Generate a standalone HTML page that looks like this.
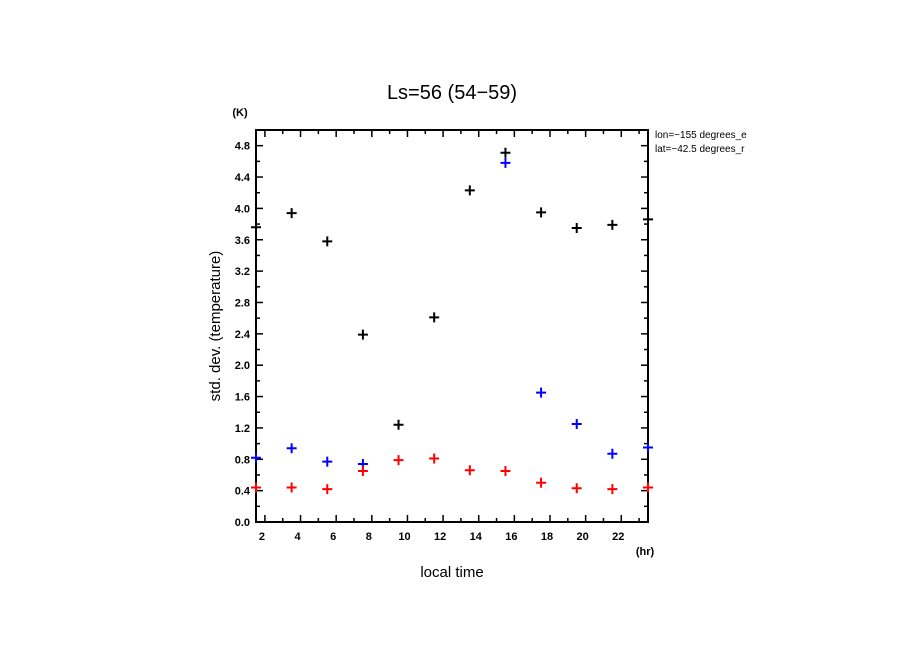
<!DOCTYPE html>
<html><head><meta charset="utf-8"><style>
body{margin:0;background:#fff;}
svg text{font-family:"Liberation Sans",sans-serif;}
</style></head><body>
<svg id="chart" width="904" height="654" xmlns="http://www.w3.org/2000/svg">
<rect width="904" height="654" fill="#fff"/>
<text x="452" y="99" font-size="20" text-anchor="middle">Ls=56 (54−59)</text>
<text x="240" y="116" font-size="11" font-weight="bold" text-anchor="middle">(K)</text>
<text x="645" y="555" font-size="11" font-weight="bold" text-anchor="middle">(hr)</text>
<text x="452" y="577" font-size="15" text-anchor="middle">local time</text>
<text transform="translate(220,326) rotate(-90)" font-size="15" text-anchor="middle">std. dev. (temperature)</text>
<text x="655" y="138" font-size="10">lon=−155 degrees_e</text>
<text x="655" y="152" font-size="10">lat=−42.5 degrees_r</text>
<g id="axes"></g>
<g id="marks"></g>
</svg>
<script>
const hours=[1.5,3.5,5.5,7.5,9.5,11.5,13.5,15.5,17.5,19.5,21.5,23.5];
const blackVals=[3.76,3.94,3.58,2.39,1.24,2.61,4.23,4.71,3.95,3.75,3.79,3.86];
const blueVals=[0.82,0.94,0.77,0.74,null,null,null,4.58,1.65,1.25,0.87,0.95];
const redVals=[0.44,0.44,0.42,0.65,0.79,0.81,0.66,0.65,0.50,0.43,0.42,0.44];
const yTicks=["0.0","0.4","0.8","1.2","1.6","2.0","2.4","2.8","3.2","3.6","4.0","4.4","4.8"];
const xTicks=["2","4","6","8","10","12","14","16","18","20","22"];

const NS="http://www.w3.org/2000/svg";
const L=256,R=648,T=130,B=522,X0=1.5,X1=23.5,Y0=0,Y1=5;
const sx=v=>L+(v-X0)/(X1-X0)*(R-L);
const sy=v=>B-(v-Y0)/(Y1-Y0)*(B-T);
function mk(tag,attrs,parent){const e=document.createElementNS(NS,tag);for(const k in attrs)e.setAttribute(k,attrs[k]);parent.appendChild(e);return e;}
const ax=document.getElementById('axes'),mg=document.getElementById('marks');
const frame=mk('rect',{x:L,y:T,width:R-L,height:B-T,fill:'none',stroke:'#000','stroke-width':2},ax);


// y ticks
for(let v=0;v<=5.001;v+=0.2){
  const y=sy(v),maj=Math.round(v*10)%4===0,len=maj?7:4;
  const t1=mk('line',{x1:L,x2:L+len,y1:y,y2:y,stroke:'#000','stroke-width':1.5},ax);
  
  
  const t2=mk('line',{x1:R,x2:R-len,y1:y,y2:y,stroke:'#000','stroke-width':1.5},ax);
  
  
}
yTicks.forEach(s=>{
  const t=mk('text',{x:L-6,y:sy(parseFloat(s))+4,'font-size':11,'font-weight':'bold','text-anchor':'end'},ax);
  t.textContent=s;
  
  
});
// x ticks
for(let h=2;h<=23;h++){
  const x=sx(h),maj=h%2===0,len=maj?7:4;
  const t1=mk('line',{x1:x,x2:x,y1:B,y2:B-len,stroke:'#000','stroke-width':1.5},ax);
  
  
  const t2=mk('line',{x1:x,x2:x,y1:T,y2:T+len,stroke:'#000','stroke-width':1.5},ax);
  
  
}
xTicks.forEach(s=>{
  const t=mk('text',{x:sx(parseFloat(s))-3,y:B+18,'font-size':11,'font-weight':'bold','text-anchor':'middle'},ax);
  t.textContent=s;
  
  
});
function plus(vals,color,name){
  vals.forEach((v,i)=>{
    if(v==null)return;
    const x=sx(hours[i]),y=sy(v);
    const g=mk('path',{d:`M${x-5},${y}H${x+5}M${x},${y-5}V${y+5}`,stroke:color,'stroke-width':2,fill:'none'},mg);
    
    
  });
}
plus(blackVals,'#000','point-black');
plus(blueVals,'#00f','point-blue');
plus(redVals,'#f00','point-red');
</script>
</body></html>
